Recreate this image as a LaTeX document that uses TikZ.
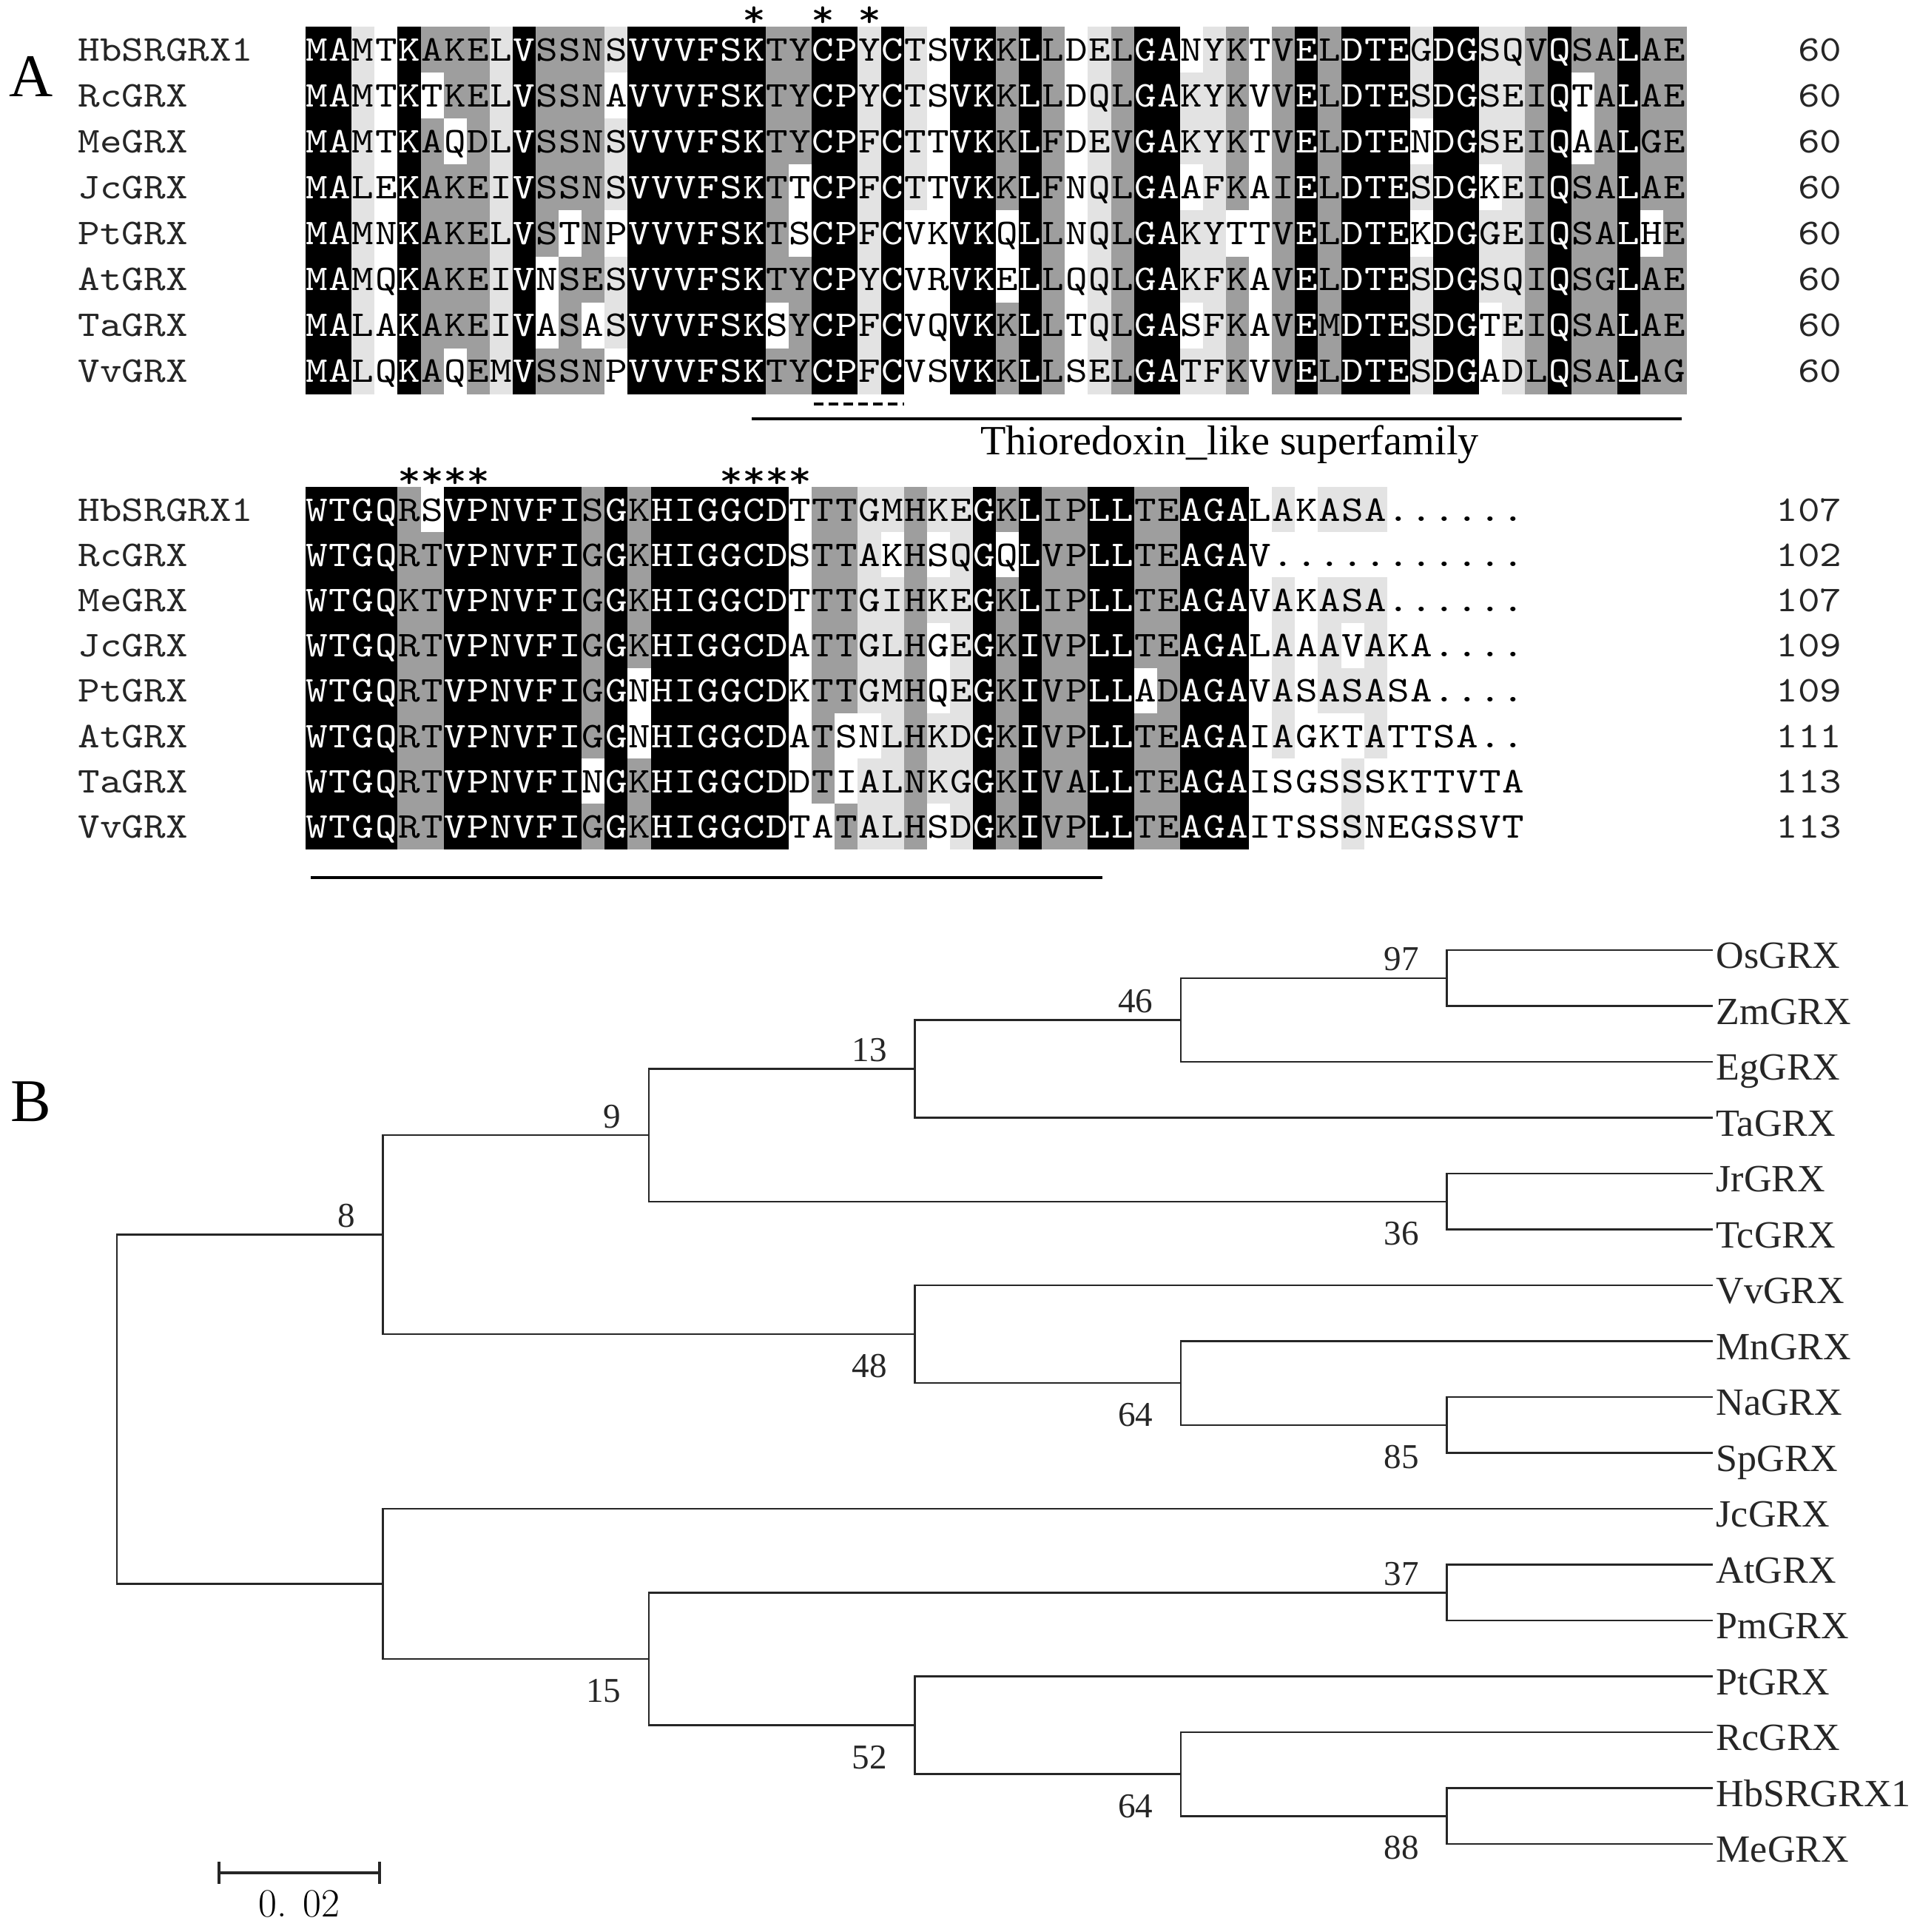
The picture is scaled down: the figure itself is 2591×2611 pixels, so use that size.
\documentclass[tikz,border=0pt]{standalone}
\usepackage{fontspec}
\newfontfamily\seqfont[FakeStretch=1.15]{lmmono10-regular.otf}
\newfontfamily\trfont{Liberation Serif}
\definecolor{cellD}{gray}{0.62}
\definecolor{cellL}{gray}{0.89}
\newcount\cellx
\newif\iffillmode
\def\rowh{62.1}
\def\seqrow#1#2#3#4{\def\rowtop{#1}\def\rowid{#4}\cellx=0 \seqloop#2\relax#3\relax}
\def\seqloop#1#2\relax#3#4\relax{\seqcell{#1}{#3}\advance\cellx by 1 \ifx\relax#2\relax\else\seqloop#2\relax#4\relax\fi}
\def\seqcell#1#2{%
  \pgfmathsetmacro\cx{413+31.1*\the\cellx}%
  \def\tc{black}\def\cc{white}%
  \if#2B\def\cc{black}\def\tc{white}\fi
  \if#2D\def\cc{cellD}\fi
  \if#2L\def\cc{cellL}\fi
  \iffillmode
    \fill[\cc] (\cx,\rowtop) rectangle +(31.7,\rowh+0.6);%
  \else
    \edef\nname{s\rowid-\the\cellx}%
    \node[seqchar,text=\tc] (\nname) at (\cx+15.55,\rowtop+46) {#1};%
  \fi}
\def\LY#1{1284+75.5*#1}
\newcommand\blockArows{%
\def\rowh{62.1}%
\seqrow{36}{MAMTKAKELVSSNSVVVFSKTYCPYCTSVKKLLDELGANYKTVELDTEGDGSQVQSALAE}{BBLWBDDDLBDDDLBBBBBBDDBBLBLWBBDBDWLDBBWLDWDBDBBBLBBLLDBDDBDD}{a1}%
\seqrow{98.1}{MAMTKTKELVSSNAVVVFSKTYCPYCTSVKKLLDQLGAKYKVVELDTESDGSEIQTALAE}{BBLWBWDDLBDDDWBBBBBBDDBBLBLWBBDBDWLDBBLLDWDBDBBBLBBLLDBWDBDD}{a2}%
\seqrow{160.2}{MAMTKAQDLVSSNSVVVFSKTYCPFCTTVKKLFDEVGAKYKTVELDTENDGSEIQAALGE}{BBLWBDWDLBDDDLBBBBBBDDBBLBLWBBDBDWLDBBLLDWDBDBBBWBBLLDBWDBDD}{a3}%
\seqrow{222.3}{MALEKAKEIVSSNSVVVFSKTTCPFCTTVKKLFNQLGAAFKAIELDTESDGKEIQSALAE}{BBLWBDDDLBDDDLBBBBBBDWBBLBLWBBDBDWLDBBWLDWDBDBBBLBBWLDBDDBDD}{a4}%
\seqrow{284.4}{MAMNKAKELVSTNPVVVFSKTSCPFCVKVKQLLNQLGAKYTTVELDTEKDGGEIQSALHE}{BBLWBDDDLBDWDWBBBBBBDWBBLBWWBBWBDWLDBBLLWWDBDBBBWBBLLDBDDBWD}{a5}%
\seqrow{346.5}{MAMQKAKEIVNSESVVVFSKTYCPYCVRVKELLQQLGAKFKAVELDTESDGSQIQSGLAE}{BBLWBDDDLBWDDLBBBBBBDDBBLBWWBBWBDWLDBBLLDWDBDBBBLBBLLDBDDBDD}{a6}%
\seqrow{408.6}{MALAKAKEIVASASVVVFSKSYCPFCVQVKKLLTQLGASFKAVEMDTESDGTEIQSALAE}{BBLWBDDDLBWDWLBBBBBBWDBBLBWWBBDBDWLDBBWLDWDBDBBBLBBWLDBDDBDD}{a7}%
\seqrow{470.7}{MALQKAQEMVSSNPVVVFSKTYCPFCVSVKKLLSELGATFKVVELDTESDGADLQSALAG}{BBLWBDWDLBDDDWBBBBBBDDBBLBWWBBDBDWLDBBLLDWDBDBBBLBBWLDBDDBDD}{a8}%
}
\newcommand\blockBrows{%
\def\rowh{61.2}%
\seqrow{658}{WTGQRSVPNVFISGKHIGGCDTTTGMHKEGKLIPLLTEAGALAKASA......}{BBBBDWBBBBBBDBDBBBBBBWDDLLDLLBDBDDBBDDBBBWLWLLLWWWWWW}{b1}%
\seqrow{719.2}{WTGQRTVPNVFIGGKHIGGCDSTTAKHSQGQLVPLLTEAGAV...........}{BBBBDDBBBBBBDBDBBBBBBWDDLWDWLBWBDDBBDDBBBWWWWWWWWWWWW}{b2}%
\seqrow{780.4}{WTGQKTVPNVFIGGKHIGGCDTTTGIHKEGKLIPLLTEAGAVAKASA......}{BBBBDDBBBBBBDBDBBBBBBWDDLLDLLBDBDDBBDDBBBWLWLLLWWWWWW}{b3}%
\seqrow{841.6}{WTGQRTVPNVFIGGKHIGGCDATTGLHGEGKIVPLLTEAGALAAAVAKA....}{BBBBDDBBBBBBDBDBBBBBBWDDLLDWLBDBDDBBDDBBBWLWLWLWWWWWW}{b4}%
\seqrow{902.8}{WTGQRTVPNVFIGGNHIGGCDKTTGMHQEGKIVPLLADAGAVASASASA....}{BBBBDDBBBBBBDBWBBBBBBWDDLLDWLBDBDDBBWDBBBWLWLLLWWWWWW}{b5}%
\seqrow{964}{WTGQRTVPNVFIGGNHIGGCDATSNLHKDGKIVPLLTEAGAIAGKTATTSA..}{BBBBDDBBBBBBDBWBBBBBBWDWWLDLLBDBDDBBDDBBBWLWWWLWWWWWW}{b6}%
\seqrow{1025.2}{WTGQRTVPNVFINGKHIGGCDDTIALNKGGKIVALLTEAGAISGSSSKTTVTA}{BBBBDDBBBBBBWBDBBBBBBWDWLLDLLBDBDDBBDDBBBWWWWLWWWWWWW}{b7}%
\seqrow{1086.4}{WTGQRTVPNVFIGGKHIGGCDTATALHSDGKIVPLLTEAGAITSSSNEGSSVT}{BBBBDDBBBBBBDBDBBBBBBWWDLLDWLBDBDDBBDDBBBWWWWLWWWWWWW}{b8}%
}
\tikzset{
  seqchar/.style={font=\seqfont\fontsize{13.94}{16}\selectfont, anchor=base, inner sep=0pt},
  namelab/.style={font=\seqfont\fontsize{13.94}{16}\selectfont, anchor=base west, inner sep=0pt, text=black!85},
  numlab/.style={font=\seqfont\fontsize{13.94}{16}\selectfont, anchor=base east, inner sep=0pt, text=black!85},
  starlab/.style={font=\seqfont\fontsize{15}{18}\selectfont, anchor=base, inner sep=0pt},
  uline/.style={line width=0.95pt, black},
  dline/.style={line width=0.95pt, black, dash pattern=on 3.7pt off 2pt},
  thio/.style={font=\trfont\fontsize{16}{19}\selectfont, anchor=base, inner sep=0pt},
  panel/.style={font=\trfont\fontsize{23.3}{28}\selectfont, anchor=base, inner sep=0pt},
  branch/.style={line width=0.7pt, black!85},
  leaf/.style={font=\trfont\fontsize{14.8}{17}\selectfont, anchor=base west, inner sep=0pt, text=black!85},
  bsab/.style={font=\trfont\fontsize{13.4}{16}\selectfont, anchor=base east, inner sep=0pt, text=black!85},
  sblab/.style={font=\fontsize{15.4}{18}\selectfont, anchor=base, inner sep=0pt}
}
\begin{document}
\begin{tikzpicture}[x=0.01cm, y=-0.01cm]
\useasboundingbox (0,0) rectangle (2591,2611);
\fill[white] (0,0) rectangle (2591,2611);
% ---------- panel A ----------
\node[panel] (pA) at (42,130) {A};
\fillmodetrue
\blockArows
\blockBrows
\fillmodefalse
\blockArows
\blockBrows
\foreach \c in {20,23,25} \node[starlab] (st\c) at (413+31.1*\c-15.55,36) {*};
\foreach \nm [count=\i from 0] in {HbSRGRX1,RcGRX,MeGRX,JcGRX,PtGRX,AtGRX,TaGRX,VvGRX} {
  \node[namelab] (na\i) at (105,36+62.1*\i+46) {\nm};
  \node[numlab] (ma\i) at (2490,36+62.1*\i+46) {60};
  \node[namelab] (nb\i) at (105,658+61.2*\i+46) {\nm};
}
\coordinate (d1) at (1100,546); \coordinate (d2) at (1222,546);
\draw[dline] (d1) -- (d2);
\coordinate (u1) at (1016,566); \coordinate (u2) at (2273,566);
\draw[uline] (u1) -- (u2);
\node[thio] (thio) at (1662,614) {Thioredoxin\_like superfamily};
\foreach \c in {5,6,7,8,19,20,21,22} \node[starlab] (su\c) at (413+31.1*\c-15.55,659) {*};
\foreach \v [count=\i from 0] in {107,102,107,109,109,111,113,113}
  \node[numlab] (mb\i) at (2490,658+61.2*\i+46) {\v};
\coordinate (v1) at (420,1186); \coordinate (v2) at (1490,1186);
\draw[uline] (v1) -- (v2);
% ---------- panel B ----------
\node[panel] (pB) at (42,1515) {B};
\foreach \n [count=\i from 0] in {OsGRX,ZmGRX,EgGRX,TaGRX,JrGRX,TcGRX,VvGRX,MnGRX,NaGRX,SpGRX,JcGRX,AtGRX,PmGRX,PtGRX,RcGRX,HbSRGRX1,MeGRX} {
  \coordinate (t\i) at (2315,\LY{\i});
  \node[leaf] (leaf\i) at (2319,\LY{\i}+24.5) {\n};
}
\coordinate (X6) at (1955.5,\LY{0.5});
\coordinate (X5) at (1596,\LY{1.25});
\coordinate (X4) at (1236.5,\LY{2.125});
\coordinate (JT) at (1955.5,\LY{4.5});
\coordinate (X2) at (877,\LY{3.3125});
\coordinate (X8) at (1955.5,\LY{8.5});
\coordinate (X7) at (1596,\LY{7.75});
\coordinate (X3) at (1236.5,\LY{6.875});
\coordinate (X1) at (517.5,\LY{5.09375});
\coordinate (Y3) at (1955.5,\LY{11.5});
\coordinate (Y6) at (1955.5,\LY{15.5});
\coordinate (Y5) at (1596,\LY{14.75});
\coordinate (Y4) at (1236.5,\LY{13.875});
\coordinate (Y2) at (877,\LY{12.6875});
\coordinate (Y1) at (517.5,\LY{11.34375});
\coordinate (R) at (158,\LY{8.21875});
\draw[branch] (R) |- (X1) (R) |- (Y1)
  (X1) |- (X2) (X1) |- (X3)
  (X2) |- (X4) (X2) |- (JT)
  (X4) |- (X5) (X4) |- (t3)
  (X5) |- (X6) (X5) |- (t2)
  (X6) |- (t0) (X6) |- (t1)
  (JT) |- (t4) (JT) |- (t5)
  (X3) |- (t6) (X3) |- (X7)
  (X7) |- (t7) (X7) |- (X8)
  (X8) |- (t8) (X8) |- (t9)
  (Y1) |- (t10) (Y1) |- (Y2)
  (Y2) |- (Y3) (Y2) |- (Y4)
  (Y3) |- (t11) (Y3) |- (t12)
  (Y4) |- (t13) (Y4) |- (Y5)
  (Y5) |- (t14) (Y5) |- (Y6)
  (Y6) |- (t15) (Y6) |- (t16);
\node[bsab] (b97) at ([shift={(-37,-10)}]X6) {97};
\node[bsab] (b46) at ([shift={(-37,-10)}]X5) {46};
\node[bsab] (b13) at ([shift={(-37,-10)}]X4) {13};
\node[bsab] (b9) at ([shift={(-37,-10)}]X2) {9};
\node[bsab] (b8) at ([shift={(-37,-10)}]X1) {8};
\node[bsab] (b36) at ([shift={(-37,58.5)}]JT) {36};
\node[bsab] (b48) at ([shift={(-37,58.5)}]X3) {48};
\node[bsab] (b64a) at ([shift={(-37,58.5)}]X7) {64};
\node[bsab] (b85) at ([shift={(-37,58.5)}]X8) {85};
\node[bsab] (b37) at ([shift={(-37,-10)}]Y3) {37};
\node[bsab] (b15) at ([shift={(-37,58.5)}]Y2) {15};
\node[bsab] (b52) at ([shift={(-37,58.5)}]Y4) {52};
\node[bsab] (b64b) at ([shift={(-37,58.5)}]Y5) {64};
\node[bsab] (b88) at ([shift={(-37,58.5)}]Y6) {88};
% scale bar
\coordinate (sbA) at (296,2531); \coordinate (sbB) at (513,2531);
\draw[branch, line width=0.9pt] (sbA) -- (sbB);
\draw[branch, line width=0.9pt] ([shift={(0,-15)}]sbA) -- ([shift={(0,15)}]sbA);
\draw[branch, line width=0.9pt] ([shift={(0,-15)}]sbB) -- ([shift={(0,15)}]sbB);
\node[sblab] (sbl) at (404.5,2590) {0. 02};
\end{tikzpicture}
\end{document}
